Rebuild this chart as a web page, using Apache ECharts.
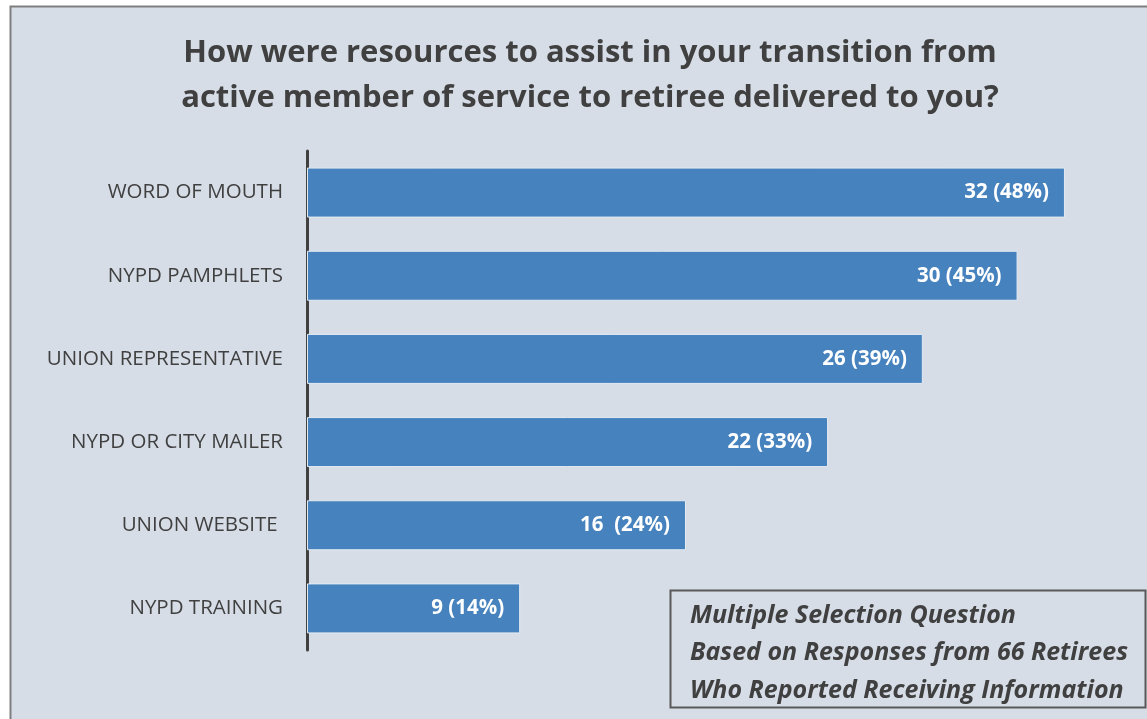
<!DOCTYPE html>
<html><head><meta charset="utf-8">
<script src="https://cdn.jsdelivr.net/npm/echarts@6/dist/echarts.min.js"></script>
<style>html,body{margin:0;padding:0;background:#fff;}#c{width:1147px;height:719px;}</style>
</head><body><div id="c"></div>
<script>
const categories = ["WORD OF MOUTH", "NYPD PAMPHLETS", "UNION REPRESENTATIVE", "NYPD OR CITY MAILER", "UNION WEBSITE ", "NYPD TRAINING"];
const counts = [32, 30, 26, 22, 16, 9];
const valueLabels = ["32 (48%)", "30 (45%)", "26 (39%)", "22 (33%)", "16  (24%)", "9 (14%)"];
const titleLines = ["How were resources to assist in your transition from", "active member of service to retiree delivered to you?"];
const noteLines = ["Multiple Selection Question", "Based on Responses from 66 Retirees", "Who Reported Receiving Information"];

const chart = echarts.init(document.getElementById('c'));
const font = '"Open Sans", sans-serif';
chart.setOption({
  animation: false,
  backgroundColor: '#ffffff',
  graphic: [
    {type:'rect', z:-10, shape:{x:10.5,y:6.5,width:1150,height:720}, style:{fill:'#d6dde7', stroke:'#7f7f7f', lineWidth:2}},
    {type:'rect', z:10, shape:{x:670.5,y:590.5,width:475,height:117}, style:{fill:'#d6dde7', stroke:'#595959', lineWidth:2}},
    {type:'text', z:11, left:690, top:597, style:{text:noteLines.join('\n'), font:'italic bold 25px ' + font, fill:'#404040', lineHeight:37.5}}
  ],
  title: {
    text: titleLines.join('\n'), left: 585, top: 26, textAlign: 'center',
    textStyle: {fontFamily: font, fontWeight: 'bold', fontSize: 31, color: '#404040', lineHeight: 45}
  },
  grid: {left: 307, top: 151, width: 829, height: 499, containLabel: false},
  xAxis: {type:'value', min:0, max:35, show:false},
  yAxis: {
    type:'category', data: categories, inverse: true,
    axisLine: {show:true, lineStyle:{color:'#404040', width:3}},
    axisTick: {show:false},
    axisLabel: {color:'#404040', fontSize:20.5, fontFamily: font, margin: 24}
  },
  series: [{
    type:'bar', data: counts, barWidth: 50,
    itemStyle: {color:'#4682bd', borderColor:'#e4ebf3', borderWidth:1},
    label: {show:true, position:'insideRight', distance:16, color:'#ffffff', fontWeight:'bold', fontSize:20.5, fontFamily: font,
      formatter: p => valueLabels[p.dataIndex]}
  }]
});
</script></body></html>
